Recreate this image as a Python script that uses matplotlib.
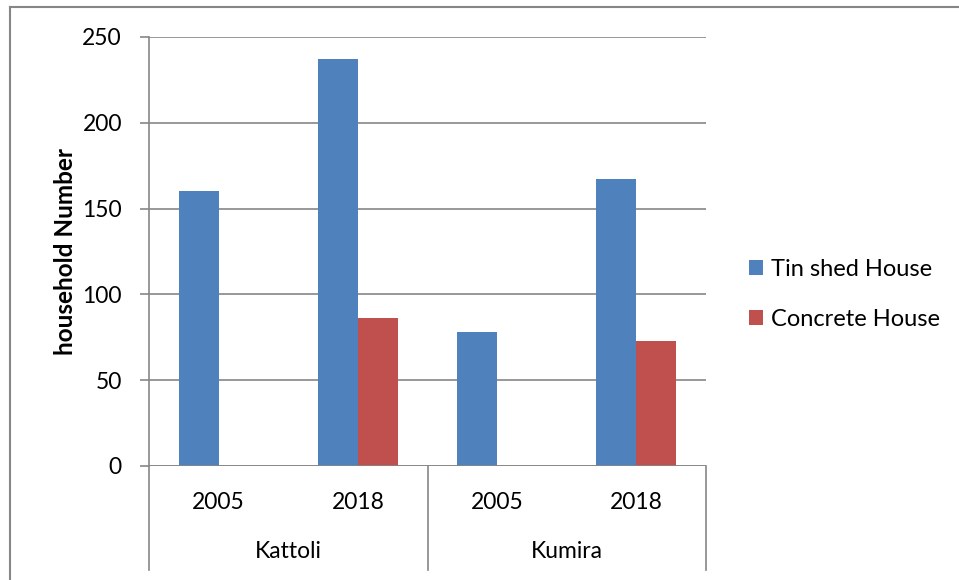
import matplotlib.pyplot as plt
import numpy as np
from matplotlib.lines import Line2D

# data
groups = ['Kattoli', 'Kumira']
years = ['2005', '2018', '2005', '2018']
tin_shed = [160, 237, 78, 167]
concrete = [0, 86, 0, 73]

plt.rcParams['font.family'] = ['Lato', 'DejaVu Sans']

fig = plt.figure(figsize=(9.59, 5.8), dpi=100)
ax = fig.add_axes([0.1554, 0.1966, 0.5808, 0.7397])

x = np.arange(len(years))
w = 0.287
ax.bar(x - w/2, tin_shed, w, color='#4F81BD', label='Tin shed House', zorder=3)
ax.bar(x + w/2, concrete, w, color='#C0504D', label='Concrete House', zorder=3)

ax.set_xlim(-0.5, len(years) - 0.5)
ax.set_ylim(0, 250)
ax.set_yticks(np.arange(0, 251, 50))
ax.yaxis.grid(True, color='#868686', linewidth=1.2, zorder=0)
ax.tick_params(axis='y', length=6.5, width=1.2, color='#868686', labelsize=16.5, pad=13)
ax.set_xticks([])
for s in ['top', 'right', 'bottom']:
    ax.spines[s].set_visible(False)
ax.spines['left'].set_color('#868686')
ax.spines['left'].set_linewidth(1.2)
ax.axhline(0, color='#868686', linewidth=1.2, zorder=4)

ax.set_ylabel('household Number', fontsize=17.5, fontweight='bold')
ax.yaxis.set_label_coords(-0.129, 0.5)

# two-level category axis
trans = ax.get_xaxis_transform()
for i, yr in enumerate(years):
    ax.text(i, -0.085, yr, transform=trans, ha='center', va='center', fontsize=16.5)
for j, g in enumerate(groups):
    ax.text(2*j + 0.5, -0.2, g, transform=trans, ha='center', va='center', fontsize=16.5)
for xs in [-0.5, 1.5, 3.5]:
    ax.plot([xs, xs], [0, -0.242], transform=trans, color='#868686',
            linewidth=1.2, clip_on=False)

ax.legend(loc='center left', bbox_to_anchor=(1.077, 0.40), frameon=False,
          fontsize=17, handlelength=0.6, handleheight=0.6, handletextpad=0.34,
          labelspacing=1.2, borderpad=0, borderaxespad=0)

# chart border (only top and left edges visible)
fig.lines.append(Line2D([10/959, 10/959], [0, 573/580], transform=fig.transFigure,
                        color='#868686', linewidth=1.5))
fig.lines.append(Line2D([10/959, 1], [573/580, 573/580], transform=fig.transFigure,
                        color='#868686', linewidth=1.5))

fig.savefig('out.png', dpi=100)
